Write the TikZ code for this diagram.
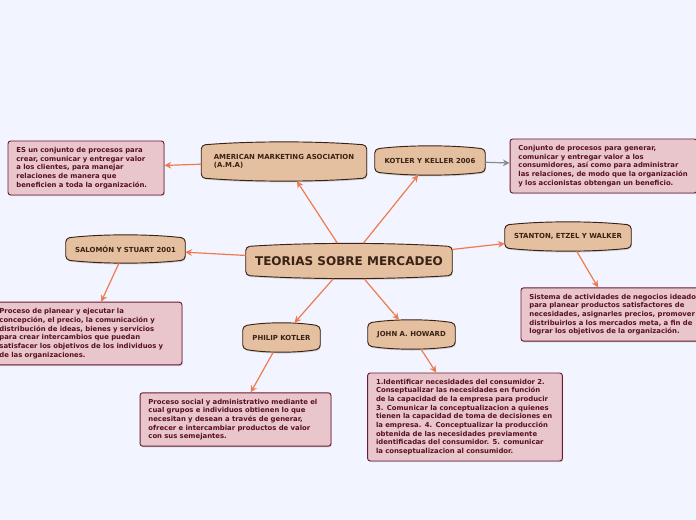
\documentclass[tikz,border=0pt]{standalone}
\usepackage{fontspec}
\setmainfont{DejaVu Sans}
\usetikzlibrary{arrows.meta,calc,backgrounds,shadows}

\definecolor{bgcol}{RGB}{242,244,255}
\definecolor{topicfill}{RGB}{228,192,160}
\definecolor{topicline}{RGB}{60,34,20}
\definecolor{topictext}{RGB}{58,34,20}
\definecolor{deffill}{RGB}{232,198,204}
\definecolor{defline}{RGB}{105,28,48}
\definecolor{deftext}{RGB}{88,16,32}
\definecolor{linkcol}{RGB}{240,122,78}
\definecolor{graylink}{RGB}{138,138,138}

\begin{document}
\begin{tikzpicture}[
    x=0.75pt, y=-0.75pt,
    topic/.style = {inner sep=0pt, align=center, text=topictext,
        font=\fontsize{5.2}{6.5}\selectfont\bfseries},
    defbox/.style = {draw=defline, fill=deffill, line width=0.7pt,
        rounded corners=2pt, inner xsep=6.3pt, inner ysep=3pt, align=left,
        text=deftext, font=\fontsize{5.15}{6.5}\selectfont\bfseries,
        drop shadow={opacity=0.3, shadow xshift=0.6pt, shadow yshift=-0.9pt}},
    barrel/.style = {fill=topicfill, draw=topicline, line width=0.7pt,
        rounded corners=3pt,
        drop shadow={opacity=0.3, shadow xshift=0.5pt, shadow yshift=-1pt}},
    link/.style = {draw=linkcol, line width=0.9pt,
        -{Stealth[length=5pt,width=5pt]}}
]
    \useasboundingbox (0,0) rectangle (696,520);
    \begin{scope}[on background layer]
        \fill[bgcol] (0,0) rectangle (696,520);
    \end{scope}

    % Nodo central y temas
    \node[topic, minimum width=154.5pt, minimum height=26.25pt,
        font=\fontsize{9}{11}\selectfont\bfseries] (main) at (349,261) {TEORIAS SOBRE MERCADEO};
    \node[topic, align=left, minimum width=123.75pt, minimum height=29.25pt] (ama) at (284,161.5)
        {AMERICAN MARKETING ASOCIATION\\(A.M.A)};
    \node[topic, minimum width=82.5pt, minimum height=21.75pt] (kk) at (430,160.5) {KOTLER Y KELLER 2006};
    \node[topic, minimum width=89.25pt, minimum height=21pt] (sal) at (125.5,249) {SALOMÓN Y STUART 2001};
    \node[topic, minimum width=94.5pt, minimum height=21.75pt] (stan) at (568,236.5) {STANTON, ETZEL Y WALKER};
    \node[topic, minimum width=57.75pt, minimum height=21.75pt] (phil) at (281.5,337.5) {PHILIP KOTLER};
    \node[topic, minimum width=65.25pt, minimum height=21.75pt] (how) at (411.5,334.5) {JOHN A. HOWARD};

    % Definiciones
    \node[defbox, text width=104.4pt, minimum height=40.5pt] (amadef) at (86,168)
        {ES un conjunto de procesos para\\crear, comunicar y entregar valor\\a los clientes, para manejar\\relaciones de manera que\\beneficien a toda la organización.};
    \node[defbox, text width=127.6pt, minimum height=40.5pt] (kkdef) at (603.5,166)
        {Conjunto de procesos para generar,\\comunicar y entregar valor a los\\consumidores, así como para administrar\\las relaciones, de modo que la organización\\y los accionistas obtengan un beneficio.};
    \node[defbox, text width=130.6pt, minimum height=47pt] (saldef) at (86.5,333.5)
        {Proceso de planear y ejecutar la\\concepción, el precio, la comunicación y\\distribución de ideas, bienes y servicios\\para crear intercambios que puedan\\satisfacer los objetivos de los individuos y\\de las organizaciones.};
    \node[defbox, text width=126.9pt, minimum height=40pt] (standef) at (614,314.5)
        {Sistema de actividades de negocios ideado\\para planear productos satisfactores de\\necesidades, asignarles precios, promover\\distribuirlos a los mercados meta, a fin de\\lograr los objetivos de la organización.};
    \node[defbox, text width=130.6pt, minimum height=40pt] (phildef) at (235.5,419.5)
        {Proceso social y administrativo mediante el\\cual grupos e individuos obtienen lo que\\necesitan y desean a través de generar,\\ofrecer e intercambiar productos de valor\\con sus semejantes.};
    \node[defbox, text width=133.5pt, minimum height=66pt] (howdef) at (465,417)
        {1.Identificar necesidades del consumidor 2.\\Conseptualizar las necesidades en función\\de la capacidad de la empresa para producir\\3. Comunicar la conceptualizacion a quienes\\tienen la capacidad de toma de decisiones en\\la empresa. 4. Conceptualizar la producción\\obtenida de las necesidades previamente\\identificadas del consumidor. 5. comunicar\\la conseptualizacion al consumidor.};

    % Formas de los temas
    \begin{scope}[on background layer]
        \foreach \n in {main,ama,kk,sal,stan,phil,how}
            \path[barrel] (\n.west) -- ([yshift=2.5pt]\n.south west)
                .. controls ([yshift=-0.6pt]$(\n.south west)!0.3!(\n.south east)$) and ([yshift=-0.6pt]$(\n.south west)!0.7!(\n.south east)$)
                .. ([yshift=2.5pt]\n.south east) -- ([yshift=-2.5pt]\n.north east)
                .. controls ([yshift=0.6pt]$(\n.north east)!0.3!(\n.north west)$) and ([yshift=0.6pt]$(\n.north east)!0.7!(\n.north west)$)
                .. ([yshift=-2.5pt]\n.north west) -- cycle;
    \end{scope}

    % Conexiones
    \draw[link] (main) -- (ama);
    \draw[link] (main) -- (kk);
    \draw[link] (main) -- (sal);
    \draw[link] (main) -- (stan);
    \draw[link] (main) -- (phil);
    \draw[link] (main) -- (how);
    \draw[link] (ama) -- (amadef);
    \draw[link, draw=graylink] (kk) -- (kkdef);
    \draw[link] (sal) -- (saldef);
    \draw[link] (stan) -- (standef);
    \draw[link] (phil) -- (phildef);
    \draw[link] (how) -- (howdef);

\end{tikzpicture}
\end{document}
